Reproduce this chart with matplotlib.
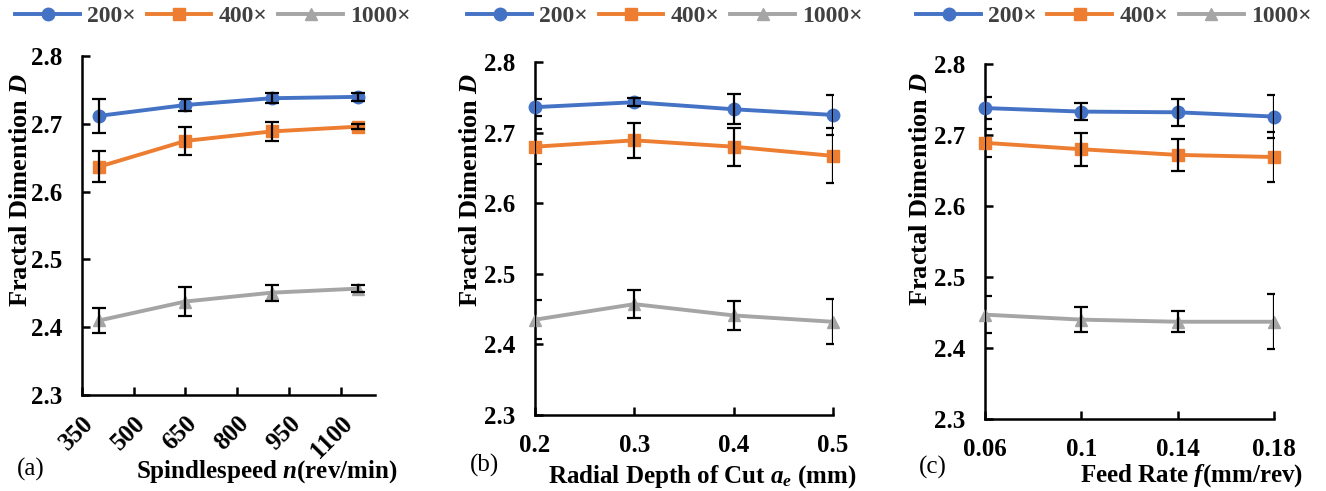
import matplotlib
matplotlib.use("Agg")
import matplotlib.pyplot as plt

plt.rcParams["font.family"] = ["Liberation Serif", "DejaVu Serif"]
plt.rcParams["mathtext.fontset"] = "custom"
plt.rcParams["mathtext.rm"] = "Liberation Serif:bold"
plt.rcParams["mathtext.it"] = "Liberation Serif:italic:bold"
plt.rcParams["mathtext.bf"] = "Liberation Serif:bold"

# magnifications
series = ["200×", "400×", "1000×"]
colors = ["#4472C4", "#ED7D31", "#A5A5A5"]
markers = ["o", "s", "^"]

# (a) spindle speed
speed = [400, 650, 900, 1150]
speed_D = [[2.712, 2.728, 2.738, 2.740],
           [2.637, 2.675, 2.689, 2.696],
           [2.410, 2.438, 2.451, 2.457]]
speed_err = [[0.025, 0.009, 0.007, 0.006],
             [0.023, 0.021, 0.014, 0.004],
             [0.018, 0.021, 0.012, 0.005]]
speed_ticks = [350, 500, 650, 800, 950, 1100]

# (b) radial depth of cut
depth = [0.2, 0.3, 0.4, 0.5]
depth_D = [[2.736, 2.743, 2.733, 2.725],
           [2.680, 2.689, 2.680, 2.667],
           [2.435, 2.457, 2.441, 2.432]]
depth_err = [[0.012, 0.006, 0.021, 0.028],
             [0.025, 0.025, 0.027, 0.039],
             [0.028, 0.020, 0.020, 0.032]]
depth_ticks = [0.2, 0.3, 0.4, 0.5]

# (c) feed rate
feed = [0.06, 0.10, 0.14, 0.18]
feed_D = [[2.738, 2.733, 2.732, 2.726],
          [2.689, 2.680, 2.672, 2.669],
          [2.447, 2.440, 2.437, 2.437]]
feed_err = [[0.015, 0.012, 0.019, 0.030],
            [0.020, 0.023, 0.022, 0.035],
            [0.026, 0.018, 0.015, 0.039]]
feed_ticks = [0.06, 0.1, 0.14, 0.18]

yticks = [2.3, 2.4, 2.5, 2.6, 2.7, 2.8]

FS = 18

fig = plt.figure(figsize=(13.26, 4.91), dpi=100)

panels = [
    dict(rect=[0.0618, 0.1955, 0.221, 0.690], x=speed, D=speed_D, err=speed_err,
         ticks=speed_ticks, tlabels=[str(t) for t in speed_ticks], xlim=(350, 1200),
         xlabel=r"Spindlespeed $n$(rev/min)", xl=(0.63, -0.186), yl=(-0.171, 0.605),
         leg=(0.447, 1.118), tag="(a)", tagpos=(0.013, 0.043), rot=True),
    dict(rect=[0.4035, 0.1548, 0.2247, 0.719], x=depth, D=depth_D, err=depth_err,
         ticks=depth_ticks, tlabels=["0.2", "0.3", "0.4", "0.5"], xlim=(0.2, 0.5),
         xlabel=r"Radial Depth of Cut $a_e$ (mm)", xl=(0.56, -0.136), yl=(-0.178, 0.637),
         leg=(0.436, 1.13), tag="(b)", tagpos=(0.354, 0.053), rot=False),
    dict(rect=[0.7428, 0.1466, 0.218, 0.723], x=feed, D=feed_D, err=feed_err,
         ticks=feed_ticks, tlabels=["0.06", "0.1", "0.14", "0.18"], xlim=(0.06, 0.18),
         xlabel=r"Feed Rate $f$(mm/rev)", xl=(0.716, -0.121), yl=(-0.183, 0.648),
         leg=(0.446, 1.135), tag="(c)", tagpos=(0.693, 0.048), rot=False),
]

for p in panels:
    ax = fig.add_axes(p["rect"])
    for name, c, m, d, e in zip(series, colors, markers, p["D"], p["err"]):
        ax.plot(p["x"], d, color=c, marker=m, markersize=9 if m != "s" else 8,
                lw=2.8, label=name, clip_on=False, zorder=3)
        ax.errorbar(p["x"], d, yerr=e, fmt="none", ecolor="black",
                    elinewidth=1.6, capsize=5, capthick=1.6, zorder=4)

    ax.set_xlim(*p["xlim"])
    ax.set_ylim(2.3, 2.8)
    ax.set_yticks(yticks)
    ax.set_yticklabels([f"{v:.1f}" for v in yticks], fontsize=FS, fontweight="bold")
    ax.set_xticks(p["ticks"])
    if p["rot"]:
        ax.set_xticklabels(p["tlabels"], fontsize=FS, fontweight="bold", rotation=45,
                           ha="right", va="top", rotation_mode="anchor")
    else:
        ax.set_xticklabels(p["tlabels"], fontsize=FS, fontweight="bold")

    for s in ["top", "right"]:
        ax.spines[s].set_visible(False)
    for s in ["left", "bottom"]:
        ax.spines[s].set_linewidth(1.8)
    ax.tick_params(direction="in", length=6, width=1.8)
    ax.tick_params(axis="y", pad=14)
    ax.tick_params(axis="x", pad=14 if not p["rot"] else 12)

    ax.set_ylabel(r"Fractal Dimention $D$", fontsize=19, fontweight="bold")
    ax.yaxis.set_label_coords(*p["yl"])
    ax.set_xlabel(p["xlabel"], fontsize=FS, fontweight="bold")
    ax.xaxis.set_label_coords(*p["xl"])

    leg = ax.legend(loc="center", bbox_to_anchor=p["leg"], ncol=3, frameon=False,
                    handlelength=2.75, handletextpad=0.3, columnspacing=0.45,
                    prop={"weight": "bold", "size": 17})
    for t in leg.get_texts():
        t.set_color("#404040")

    fig.text(p["tagpos"][0], p["tagpos"][1], p["tag"], fontsize=FS, ha="left", va="center")

fig.savefig("out.png", dpi=100)
